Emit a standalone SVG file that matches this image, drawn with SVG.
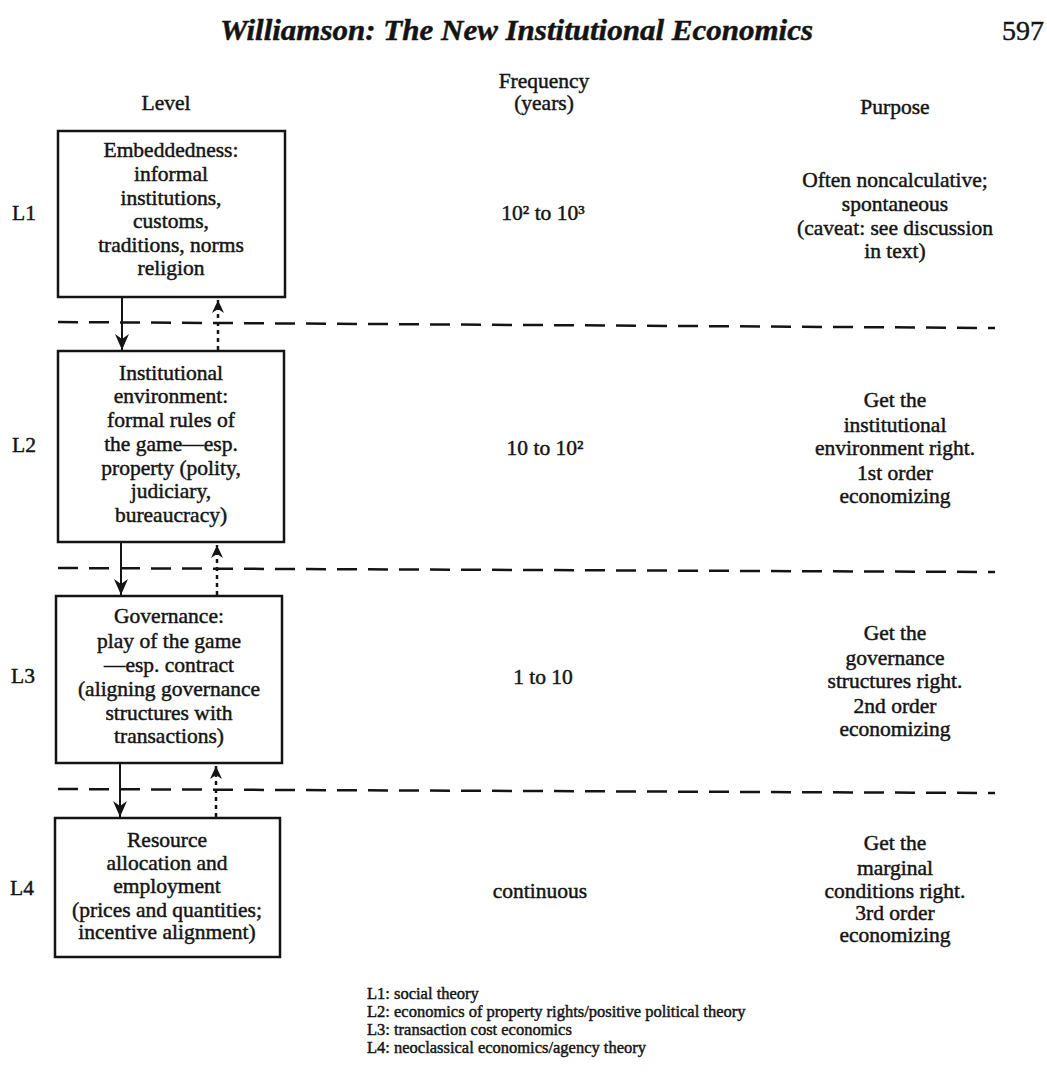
<svg xmlns="http://www.w3.org/2000/svg" width="1047" height="1074" viewBox="0 0 1047 1074">
<style>
text{font-family:"Liberation Serif","Times New Roman",serif;fill:#141414;stroke:#141414;stroke-width:0.45}
.t{font-size:21.5px;text-anchor:middle}
.lab{font-size:21.5px}
.leg{font-size:16.5px}
.box{fill:#fff;stroke:#141414;stroke-width:2.5}
.sep{stroke:#141414;stroke-width:2.5;stroke-dasharray:20 11;fill:none}
.down{stroke:#141414;stroke-width:2;fill:none}
.up{stroke:#141414;stroke-width:2.5;stroke-dasharray:4 4;fill:none}
</style>
<defs>
<marker id="ah" viewBox="0 0 16 14" refX="16" refY="7" markerWidth="16" markerHeight="14" markerUnits="userSpaceOnUse" orient="auto">
<path d="M0,0 L16,7 L0,14 L5,7 Z" fill="#141414"/>
</marker>
<marker id="ahs" viewBox="0 0 13 12" refX="13" refY="6" markerWidth="13" markerHeight="12" markerUnits="userSpaceOnUse" orient="auto">
<path d="M0,0 L13,6 L0,12 L4,6 Z" fill="#141414"/>
</marker>
</defs>

<g id="header">
<text x="220" y="40" style="font-size:29px;font-weight:bold;font-style:italic" textLength="593" lengthAdjust="spacingAndGlyphs">Williamson: The New Institutional Economics</text>
<text x="1044" y="40" style="font-size:28px;text-anchor:end">597</text>
<text class="t" x="166" y="110">Level</text>
<text class="t" x="544" y="88">Frequency</text>
<text class="t" x="544" y="110">(years)</text>
<text class="t" x="895" y="114">Purpose</text>
</g>

<g id="separators">
<line class="sep" x1="58" y1="322" x2="995" y2="328"/>
<line class="sep" x1="58" y1="568" x2="995" y2="572"/>
<line class="sep" x1="58" y1="789" x2="995" y2="793"/>
</g>

<g id="connectors">
<line class="down" x1="122" y1="298" x2="122" y2="350" marker-end="url(#ah)"/>
<line class="up" x1="218" y1="350" x2="218" y2="300" marker-end="url(#ahs)"/>
<line class="down" x1="121" y1="543" x2="121" y2="595" marker-end="url(#ah)"/>
<line class="up" x1="217" y1="595" x2="217" y2="545" marker-end="url(#ahs)"/>
<line class="down" x1="120" y1="764" x2="120" y2="817" marker-end="url(#ah)"/>
<line class="up" x1="216" y1="817" x2="216" y2="766" marker-end="url(#ahs)"/>
</g>

<g id="L1">
<text class="lab" x="12" y="220">L1</text>
<rect class="box" x="58" y="131" width="227" height="166"/>
<text class="t" x="171" y="157">Embeddedness:</text>
<text class="t" x="171" y="181">informal</text>
<text class="t" x="171" y="205">institutions,</text>
<text class="t" x="171" y="228">customs,</text>
<text class="t" x="171" y="252">traditions, norms</text>
<text class="t" x="171" y="275">religion</text>
<text class="t" x="543" y="220">10² to 10³</text>
<text class="t" x="895" y="187">Often noncalculative;</text>
<text class="t" x="895" y="211">spontaneous</text>
<text class="t" x="895" y="235">(caveat: see discussion</text>
<text class="t" x="895" y="258">in text)</text>
</g>

<g id="L2">
<text class="lab" x="12" y="452">L2</text>
<rect class="box" x="58" y="351" width="226" height="191"/>
<text class="t" x="171" y="380">Institutional</text>
<text class="t" x="171" y="403">environment:</text>
<text class="t" x="171" y="427">formal rules of</text>
<text class="t" x="171" y="451">the game—esp.</text>
<text class="t" x="171" y="475">property (polity,</text>
<text class="t" x="171" y="498">judiciary,</text>
<text class="t" x="171" y="522">bureaucracy)</text>
<text class="t" x="545" y="455">10 to 10²</text>
<text class="t" x="895" y="407">Get the</text>
<text class="t" x="895" y="432">institutional</text>
<text class="t" x="895" y="455">environment right.</text>
<text class="t" x="895" y="480">1st order</text>
<text class="t" x="895" y="503">economizing</text>
</g>

<g id="L3">
<text class="lab" x="11" y="683">L3</text>
<rect class="box" x="56" y="596" width="226" height="167"/>
<text class="t" x="169" y="623">Governance:</text>
<text class="t" x="169" y="648">play of the game</text>
<text class="t" x="169" y="672">—esp. contract</text>
<text class="t" x="169" y="696">(aligning governance</text>
<text class="t" x="169" y="720">structures with</text>
<text class="t" x="169" y="743">transactions)</text>
<text class="t" x="543" y="684">1 to 10</text>
<text class="t" x="895" y="640">Get the</text>
<text class="t" x="895" y="665">governance</text>
<text class="t" x="895" y="688">structures right.</text>
<text class="t" x="895" y="713">2nd order</text>
<text class="t" x="895" y="736">economizing</text>
</g>

<g id="L4">
<text class="lab" x="10" y="895">L4</text>
<rect class="box" x="55" y="818" width="225" height="139"/>
<text class="t" x="167" y="847">Resource</text>
<text class="t" x="167" y="870">allocation and</text>
<text class="t" x="167" y="893">employment</text>
<text class="t" x="167" y="917">(prices and quantities;</text>
<text class="t" x="167" y="939">incentive alignment)</text>
<text class="t" x="540" y="898">continuous</text>
<text class="t" x="895" y="850">Get the</text>
<text class="t" x="895" y="875">marginal</text>
<text class="t" x="895" y="898">conditions right.</text>
<text class="t" x="895" y="920">3rd order</text>
<text class="t" x="895" y="942">economizing</text>
</g>

<g id="legend">
<text class="leg" x="367" y="999">L1: social theory</text>
<text class="leg" x="367" y="1017">L2: economics of property rights/positive political theory</text>
<text class="leg" x="367" y="1035">L3: transaction cost economics</text>
<text class="leg" x="367" y="1053">L4: neoclassical economics/agency theory</text>
</g>
</svg>
